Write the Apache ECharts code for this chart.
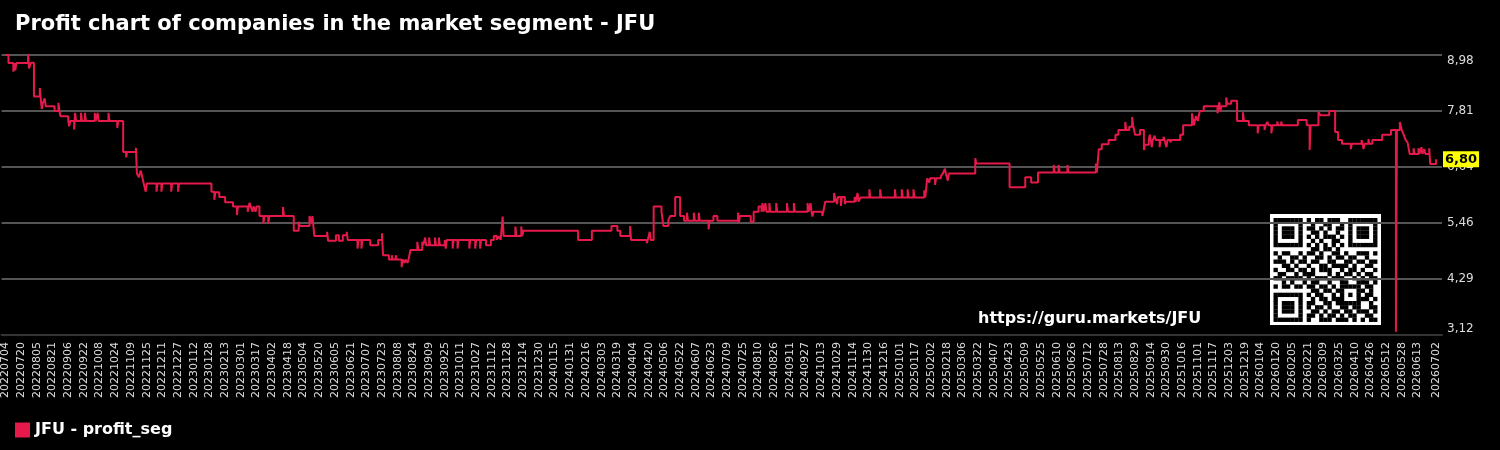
<!DOCTYPE html>
<html>
<head>
<meta charset="utf-8">
<title>JFU profit_seg</title>
<script src="https://cdn.jsdelivr.net/npm/echarts@6/dist/echarts.min.js"></script>
<style>
  html, body { margin: 0; padding: 0; background: #000; }
  #main { width: 1500px; height: 450px; }
</style>
</head>
<body>
<div id="main"></div>
<script>
// calendar: daily categories, with a few blank days of margin on each side of the data
var firstDay = Date.UTC(2022, 5, 30);
var lastDay = Date.UTC(2026, 6, 8);
var categories = [];
for (var t = firstDay; t <= lastDay; t += 86400000) {
  var d = new Date(t);
  categories.push(d.getUTCFullYear() + String(d.getUTCMonth() + 1).padStart(2, '0') + String(d.getUTCDate()).padStart(2, '0'));
}
var startIdx = categories.indexOf('20220704');

var tickLabels = [
  '20220704','20220720','20220805','20220821','20220906','20220922','20221008','20221024','20221109','20221125',
  '20221211','20221227','20230112','20230128','20230213','20230301','20230317','20230402','20230418','20230504',
  '20230520','20230605','20230621','20230707','20230723','20230808','20230824','20230909','20230925','20231011',
  '20231027','20231112','20231128','20231214','20231230','20240115','20240131','20240216','20240303','20240319',
  '20240404','20240420','20240506','20240522','20240607','20240623','20240709','20240725','20240810','20240826',
  '20240911','20240927','20241013','20241029','20241114','20241130','20241216','20250101','20250117','20250202',
  '20250218','20250306','20250322','20250407','20250423','20250509','20250525','20250610','20250626','20250712',
  '20250728','20250813','20250829','20250914','20250930','20251016','20251101','20251117','20251203','20251219',
  '20260104','20260120','20260205','20260221','20260309','20260325','20260410','20260426','20260512','20260528',
  '20260613','20260702'
];

// profit_seg: days (since 20220704) where the value changes, and the new value
var changeDays = [
  0,3,8,9,10,11,23,24,26,29,35,36,37,38,40,41,50,54,55,56,
  64,65,66,70,71,72,77,78,81,82,91,92,94,95,105,106,114,115,120,123,
  124,133,134,136,137,138,139,141,143,144,154,155,159,160,169,170,176,177,210,213,
  214,218,224,232,236,237,247,248,249,250,252,253,255,256,259,263,264,268,269,283,
  284,294,299,300,310,312,313,315,328,329,337,340,344,348,349,359,360,363,364,372,
  380,384,385,391,394,395,398,399,404,405,407,408,410,411,413,420,421,425,426,428,
  429,432,433,438,439,442,443,448,449,450,456,457,461,462,473,474,479,480,484,485,
  490,495,498,501,503,505,507,508,520,521,526,527,528,584,598,618,624,627,637,638,
  654,655,657,658,661,669,671,676,678,683,688,692,695,696,702,703,707,708,717,718,
  722,726,747,748,749,760,763,768,771,772,773,775,776,779,780,786,787,797,798,804,
  805,818,819,821,822,823,824,833,834,836,845,846,848,849,852,853,856,857,866,867,
  869,870,872,881,882,892,893,907,908,914,915,920,921,926,927,937,938,940,942,943,
  948,949,954,956,958,959,961,962,989,990,1024,1040,1046,1053,1069,1070,1074,1075,1083,1084,
  1112,1113,1115,1118,1125,1132,1135,1142,1143,1146,1149,1150,1152,1157,1161,1162,1166,1167,1168,1169,
  1170,1172,1173,1177,1178,1181,1182,1184,1185,1188,1189,1198,1201,1210,1212,1214,1216,1218,1222,1236,
  1237,1238,1239,1240,1245,1246,1250,1256,1262,1263,1268,1277,1278,1284,1285,1287,1288,1291,1292,1297,
  1298,1301,1302,1318,1327,1330,1331,1339,1341,1350,1356,1359,1363,1372,1373,1383,1384,1385,1386,1390,
  1391,1394,1404,1413,1418,1419,1422,1424,1426,1428,1430,1432,1436,1437,1441,1442,1444,1445,1447,1448,
  1452,1453,1459
];
var changeValues = [
  8.98,8.81,8.63,8.81,8.66,8.81,9.00,8.70,8.82,8.11,8.29,8.05,7.85,7.97,8.07,7.91,7.81,7.98,7.81,7.70,
  7.60,7.49,7.60,7.42,7.77,7.60,7.77,7.60,7.77,7.60,7.77,7.60,7.77,7.60,7.77,7.60,7.45,7.60,6.95,6.84,
  6.95,7.04,6.50,6.42,6.50,6.56,6.47,6.29,6.12,6.29,6.12,6.29,6.12,6.29,6.12,6.29,6.12,6.29,6.12,5.95,
  6.11,6.01,5.90,5.81,5.63,5.81,5.70,5.81,5.89,5.81,5.70,5.81,5.70,5.81,5.61,5.45,5.61,5.45,5.61,5.80,
  5.61,5.30,5.49,5.40,5.61,5.49,5.61,5.19,5.28,5.09,5.21,5.09,5.21,5.28,5.11,4.93,5.11,4.93,5.11,5.00,
  5.11,5.25,4.79,4.70,4.79,4.70,4.79,4.70,4.54,4.70,4.63,4.70,4.63,4.70,4.90,5.07,4.90,5.07,5.00,5.16,
  5.00,5.16,5.00,5.16,5.00,5.16,5.00,5.11,4.93,5.11,4.93,5.11,4.93,5.11,4.93,5.11,4.93,5.11,4.93,5.11,
  5.00,5.11,5.19,5.11,5.19,5.11,5.60,5.19,5.39,5.19,5.39,5.19,5.30,5.11,5.30,5.40,5.30,5.19,5.40,5.11,
  5.04,5.11,5.28,5.11,5.81,5.70,5.40,5.53,5.61,6.01,5.61,5.51,5.68,5.51,5.68,5.51,5.68,5.51,5.33,5.51,
  5.61,5.51,5.68,5.47,5.61,5.49,5.70,5.81,5.70,5.88,5.70,5.88,5.70,5.88,5.70,5.88,5.70,5.88,5.70,5.88,
  5.70,5.88,5.70,5.88,5.70,5.60,5.70,5.61,5.70,5.91,6.09,6.01,5.86,6.01,5.82,6.01,5.86,5.91,6.01,5.91,
  6.09,5.91,6.00,6.17,6.00,6.17,6.00,6.17,6.00,6.17,6.00,6.17,6.00,6.17,6.00,6.15,6.00,6.40,6.31,6.40,
  6.26,6.40,6.45,6.50,6.60,6.50,6.35,6.50,6.82,6.71,6.21,6.42,6.31,6.52,6.68,6.52,6.68,6.52,6.68,6.52,
  6.71,6.52,7.01,7.11,7.20,7.31,7.41,7.58,7.41,7.48,7.68,7.51,7.31,7.41,6.99,7.10,7.20,7.31,7.20,7.05,
  7.20,7.29,7.20,7.05,7.20,7.27,7.20,7.05,7.20,7.15,7.20,7.31,7.51,7.76,7.51,7.70,7.60,7.81,7.91,7.76,
  7.91,7.99,7.80,7.91,8.09,7.96,8.02,7.60,7.78,7.60,7.51,7.34,7.51,7.41,7.51,7.58,7.51,7.34,7.51,7.59,
  7.51,7.59,7.51,7.62,7.51,6.99,7.51,7.79,7.72,7.81,7.37,7.20,7.12,7.01,7.12,7.20,7.12,7.01,7.12,7.22,
  7.12,7.20,7.31,7.41,3.19,7.41,7.58,7.41,7.31,7.20,7.14,6.91,7.03,6.91,7.03,6.91,7.05,6.91,7.01,6.91,
  7.03,6.70,6.80
];

var yMin = 3.12, yMax = 8.98, yStep = 1.172;
var lastValue = changeValues[changeValues.length - 1];

var seriesData = changeDays.map(function (day, i) {
  return [categories[startIdx + day], changeValues[i]];
});

// QR code decoration (25x25 modules)
var qrRows = [
  '1111111 0 101101110 0 1111111',
  '1000001 0 010011001 0 1000001',
  '1011101 0 110101011 0 1011101',
  '1011101 0 011010010 0 1011101',
  '1011101 0 101011101 0 1011101',
  '1000001 0 010100110 0 1000001',
  '1111111 0 101010101 0 1111111',
  '00000000 011011010 00000000',
  '101100 1 0 11010011 010011101',
  '010011 0 1 00110101 101100100',
  '111010 1 1 01100110 011011011',
  '001101 0 0 10011011 110100110',
  '100110 1 1 01011100 101101001',
  '011001 0 1 11000101 011010110',
  '110111 1 0 10111011 100101011',
  '001010 0 1 01100100 110011101',
  '101101 1 0 11011010 11111 0110',
  '00000000 01101101 10001 1010',
  '1111111 0 10110010 10101 0110',
  '1000001 0 01011011 10001 1101',
  '1011101 0 11001101 11111 0010',
  '1011101 0 10110100 110110011',
  '1011101 0 01101011 011011101',
  '1000001 0 11010110 101100110',
  '1111111 0 10011101 110101011'
];
var qrCell = 4.15;
var qrChildren = [{ type: 'rect', shape: { x: 0, y: 0, width: 111, height: 111 }, style: { fill: '#fff' } }];
qrRows.forEach(function (row, r) {
  row = row.replace(/ /g, '');
  for (var c = 0; c < row.length; c++) {
    if (row[c] === '1') {
      qrChildren.push({
        type: 'rect',
        shape: { x: 3.5 + c * qrCell, y: 4 + r * qrCell, width: qrCell + 0.2, height: qrCell + 0.2 },
        style: { fill: '#000' }
      });
    }
  }
});

var myChart = echarts.init(document.getElementById('main'));
var option = {
  backgroundColor: '#000',
  animation: false,
  textStyle: { fontFamily: 'DejaVu Sans' },
  title: {
    text: 'Profit chart of companies in the market segment - JFU',
    left: 15,
    top: 14,
    padding: 0,
    textStyle: { color: '#fff', fontSize: 21, fontWeight: 'bold' }
  },
  legend: {
    left: 15,
    top: 422,
    padding: 0,
    icon: 'rect',
    itemWidth: 15,
    itemHeight: 15,
    textStyle: { color: '#fff', fontSize: 16, fontWeight: 'bold' },
    data: ['JFU - profit_seg']
  },
  grid: { left: 0, right: 58, top: 55, bottom: 115 },
  xAxis: {
    type: 'category',
    data: categories,
    boundaryGap: false,
    axisLine: { lineStyle: { color: '#333', width: 2 } },
    axisTick: { show: false },
    splitLine: { show: false },
    axisLabel: {
      rotate: 90,
      color: '#ddd',
      fontSize: 11,
      margin: 7,
      interval: function (index, value) { return tickLabels.indexOf(value) !== -1; }
    }
  },
  yAxis: {
    type: 'value',
    position: 'right',
    min: yMin,
    max: yMax,
    interval: yStep,
    axisLine: { show: false },
    axisTick: { show: false },
    splitLine: { lineStyle: { color: '#555', width: 2 } },
    axisLabel: {
      color: '#ddd',
      fontSize: 12,
      margin: 5,
      verticalAlignMinLabel: 'bottom',
      verticalAlignMaxLabel: 'top',
      formatter: function (v) { return v.toFixed(2).replace('.', ','); }
    }
  },
  graphic: [
    {
      type: 'text',
      left: 978,
      top: 311,
      style: { text: 'https://guru.markets/JFU', fill: '#fff', font: 'bold 16px "DejaVu Sans"' }
    },
    { type: 'group', left: 1270, top: 214, children: qrChildren }
  ],
  series: [
    {
      name: 'JFU - profit_seg',
      type: 'line',
      step: 'end',
      data: seriesData,
      showSymbol: false,
      clip: false,
      color: '#e6194b',
      lineStyle: { color: '#e6194b', width: 2 },
      markLine: {
        silent: true,
        symbol: 'none',
        z: 10,
        lineStyle: { color: 'rgba(0,0,0,0)', width: 1, type: 'solid' },
        label: {
          show: true,
          position: 'end',
          distance: 1,
          formatter: lastValue.toFixed(2).replace('.', ','),
          backgroundColor: '#ffff00',
          color: '#000',
          fontWeight: 'bold',
          fontSize: 13,
          padding: [2, 2, 1, 2]
        },
        data: [{ yAxis: lastValue }]
      }
    }
  ]
};
myChart.setOption(option);
</script>
</body>
</html>
